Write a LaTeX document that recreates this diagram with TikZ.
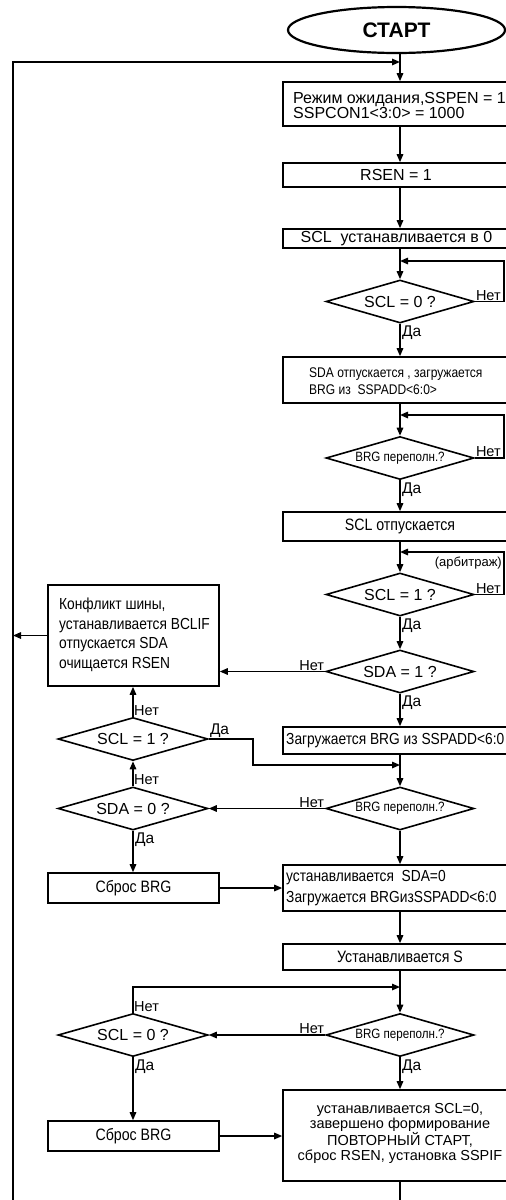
\documentclass[tikz,border=0pt]{standalone}
\usepackage{fontspec}
\setmainfont{Liberation Sans}
\newfontfamily\nf[FakeStretch=0.86]{Liberation Sans}
\usetikzlibrary{shapes.geometric,arrows.meta}
\begin{document}
\begin{tikzpicture}[x=1pt,y=-1pt,
  ln/.style={line width=1.5pt},
  arr/.style={ln,-{Triangle[length=8pt,width=6.5pt]}},
  box/.style={draw,line width=1.6pt,rectangle,inner sep=0pt,minimum width=250pt},
  lbox/.style={draw,line width=1.6pt,rectangle,inner sep=0pt,minimum width=171pt,font=\nf\fontsize{16.5}{16}\selectfont},
  dec/.style={draw,line width=1.6pt,diamond,aspect=3.4,inner sep=0pt,minimum width=148pt,minimum height=43pt,font=\fontsize{16}{16}\selectfont},
  ldec/.style={dec,minimum width=150pt},
  brg/.style={font=\nf\fontsize{13.5}{14}\selectfont},
  no/.style={inner sep=1pt,font=\fontsize{14.5}{15}\selectfont},
  yes/.style={inner sep=2pt,anchor=north west,font=\fontsize{15.5}{15}\selectfont},
  tx/.style={inner sep=0pt,align=left},
  ct/.style={inner sep=0pt,align=center,font=\fontsize{16}{16}\selectfont}
]
\useasboundingbox (0,0) rectangle (506,1200);
\clip (0,0) rectangle (506,1200);

% column coordinates
\coordinate (cx) at (400,0);
\coordinate (r1) at (504,0);
\coordinate (k1) at (253,0);

% main column
\node[draw,ellipse,line width=2.2pt,minimum width=217pt,minimum height=46pt,inner sep=0pt,font=\bfseries\fontsize{21}{21}\selectfont] (start) at (396.5,30) {СТАРТ};
\node[box,minimum height=44pt] (b1) at (408,104) {};
\node[tx,anchor=west,font=\fontsize{16}{15.6}\selectfont] (t1) at (293,105.5) {Режим ожидания,SSPEN = 1\\SSPCON1<3:0> = 1000};
\node[box,minimum height=24pt] (b2) at (408,175) {};
\node[ct] (t2) at (396,175) {RSEN = 1};
\node[box,minimum height=19pt] (b3) at (408,238.5) {};
\node[ct] (t3) at (396.5,238.5) {SCL\ \ устанавливается в 0};
\node[dec] (d1) at (400,301.5) {SCL = 0 ?};
\node[box,minimum height=46pt] (b4) at (408,380) {};
\node[tx,anchor=west,font=\nf\fontsize{14}{17}\selectfont] (t4) at (309,381.5) {SDA отпускается , загружается\\BRG из\ \ SSPADD<6:0>};
\node[dec,brg] (d2) at (400,458) {BRG переполн.?};
\node[box,minimum height=29pt] (b5) at (408,526.5) {};
\node[ct,font=\nf\fontsize{16.5}{16}\selectfont] (t5) at (400,526.5) {SCL отпускается};
\node[dec] (d3) at (400,594.5) {SCL = 1 ?};
\node[dec] (d4) at (400,671.5) {SDA = 1 ?};
\node[box,minimum height=27pt] (b6) at (408,740.5) {};
\node[tx,anchor=west,font=\nf\fontsize{16}{16}\selectfont] (t6) at (286,741) {Загружается BRG из SSPADD<6:0};
\node[dec,brg] (d5) at (400,808.5) {BRG переполн.?};
\node[box,minimum height=46pt] (b7) at (408,888) {};
\node[tx,anchor=west,font=\nf\fontsize{16}{21}\selectfont] (t7) at (286,888) {устанавливается\ \ SDA=0\\Загружается BRGизSSPADD<6:0};
\node[box,minimum height=26pt] (b8) at (408,957) {};
\node[ct,font=\nf\fontsize{16.5}{16}\selectfont] (t8) at (400,957) {Устанавливается S};
\node[dec,brg] (d6) at (400,1035) {BRG переполн.?};
\node[box,minimum height=91pt] (b9) at (408,1135.5) {};
\node[ct,font=\fontsize{14.5}{15}\selectfont] (t9) at (400,1133) {устанавливается SCL=0,\\завершено формирование\\ПОВТОРНЫЙ СТАРТ,\\сброс RSEN, установка SSPIF};

% left column
\node[lbox,minimum height=101pt] (konf) at (133.5,635.5) {};
\node[tx,anchor=west,font=\nf\fontsize{16}{19.5}\selectfont] (tk) at (59,635) {Конфликт шины,\\устанавливается BCLIF\\отпускается SDA\\очищается RSEN};
\node[ldec] (ld1) at (133,739) {SCL = 1 ?};
\node[ldec] (ld2) at (133,808.5) {SDA = 0 ?};
\node[lbox,minimum height=30pt] (rb1) at (133.5,888) {Сброс BRG};
\node[ldec] (ld3) at (133,1035) {SCL = 0 ?};
\node[lbox,minimum height=30pt] (rb2) at (133.5,1136) {Сброс BRG};

% feedback coordinates
\coordinate (fbB) at (13,1215);
\coordinate (fbT) at (13,62);
\coordinate (j0) at (400,62);
\coordinate (bot) at (400,1215);
\coordinate (l1) at (400,261);
\coordinate (l2) at (400,415);
\coordinate (l3) at (400,552);
\coordinate (j1) at (400,765);
\coordinate (j2) at (400,987);

% main connectors
\draw[arr] (start.south -| cx) -- (b1.north -| cx);
\draw[arr] (b1.south -| cx) -- (b2.north -| cx);
\draw[arr] (b2.south -| cx) -- (b3.north -| cx);
\draw[arr] (b3.south -| cx) -- (d1.north);
\draw[arr] (d1.south) -- (b4.north -| cx);
\draw[arr] (b4.south -| cx) -- (d2.north);
\draw[arr] (d2.south) -- (b5.north -| cx);
\draw[arr] (b5.south -| cx) -- (d3.north);
\draw[arr] (d3.south) -- (d4.north);
\draw[arr] (d4.south) -- (b6.north -| cx);
\draw[arr] (b6.south -| cx) -- (d5.north);
\draw[arr] (d5.south) -- (b7.north -| cx);
\draw[arr] (b7.south -| cx) -- (b8.north -| cx);
\draw[arr] (b8.south -| cx) -- (d6.north);
\draw[arr] (d6.south) -- (b9.north -| cx);
\draw[ln] (b9.south -| cx) -- (bot);

% loops on the right
\draw[arr] (d1.east) -- (d1.east -| r1) |- (l1);
\draw[arr] (d2.east) -- (d2.east -| r1) |- (l2);
\draw[arr] (d3.east) -- (d3.east -| r1) |- (l3);

% feedback line
\draw[arr] (fbB) -- (fbT) -- (j0);
\draw[arr] (konf.west) -- (konf.west -| fbT);

% left side connectors
\draw[arr] (d4.west) -- (d4.west -| konf.east);
\draw[arr] (ld1.north) -- (konf.south -| ld1);
\draw[arr] (ld2.north) -- (ld1.south);
\draw[arr] (ld1.east) -- (ld1.east -| k1) |- (j1);
\draw[arr] (d5.west) -- (ld2.east);
\draw[arr] (ld2.south) -- (rb1.north -| ld2);
\draw[arr] (rb1.east) -- (rb1.east -| b7.west);
\draw[arr] (d6.west) -- (ld3.east);
\draw[arr] (ld3.north) |- (j2);
\draw[arr] (ld3.south) -- (rb2.north -| ld3);
\draw[arr] (rb2.east) -- (rb2.east -| b9.west);

% labels
\node[no,anchor=south west] (n1) at (d1.east) {Нет};
\node[yes] (y1) at (d1.south) {Да};
\node[no,anchor=south west] (n2) at (d2.east) {Нет};
\node[yes] (y2) at (d2.south) {Да};
\node[inner sep=0pt,anchor=east,font=\fontsize{13}{13}\selectfont] (arb) at (502,563) {(арбитраж)};
\node[no,anchor=south west] (n3) at (d3.east) {Нет};
\node[yes] (y3) at (d3.south) {Да};
\node[no,anchor=south east] (n4) at (d4.west) {Нет};
\node[yes] (y4) at (d4.south) {Да};
\node[no,anchor=south east] (n5) at (d5.west) {Нет};
\node[no,anchor=south east] (n6) at (d6.west) {Нет};
\node[yes] (y6) at (d6.south) {Да};
\node[no,anchor=south west] (n7) at (ld1.north) {Нет};
\node[yes,anchor=south west,inner sep=1pt] (y7) at (ld1.east) {Да};
\node[no,anchor=south west] (n8) at (ld2.north) {Нет};
\node[yes] (y8) at (ld2.south) {Да};
\node[no,anchor=south west] (n9) at (ld3.north) {Нет};
\node[yes] (y9) at (ld3.south) {Да};
\end{tikzpicture}
\end{document}
